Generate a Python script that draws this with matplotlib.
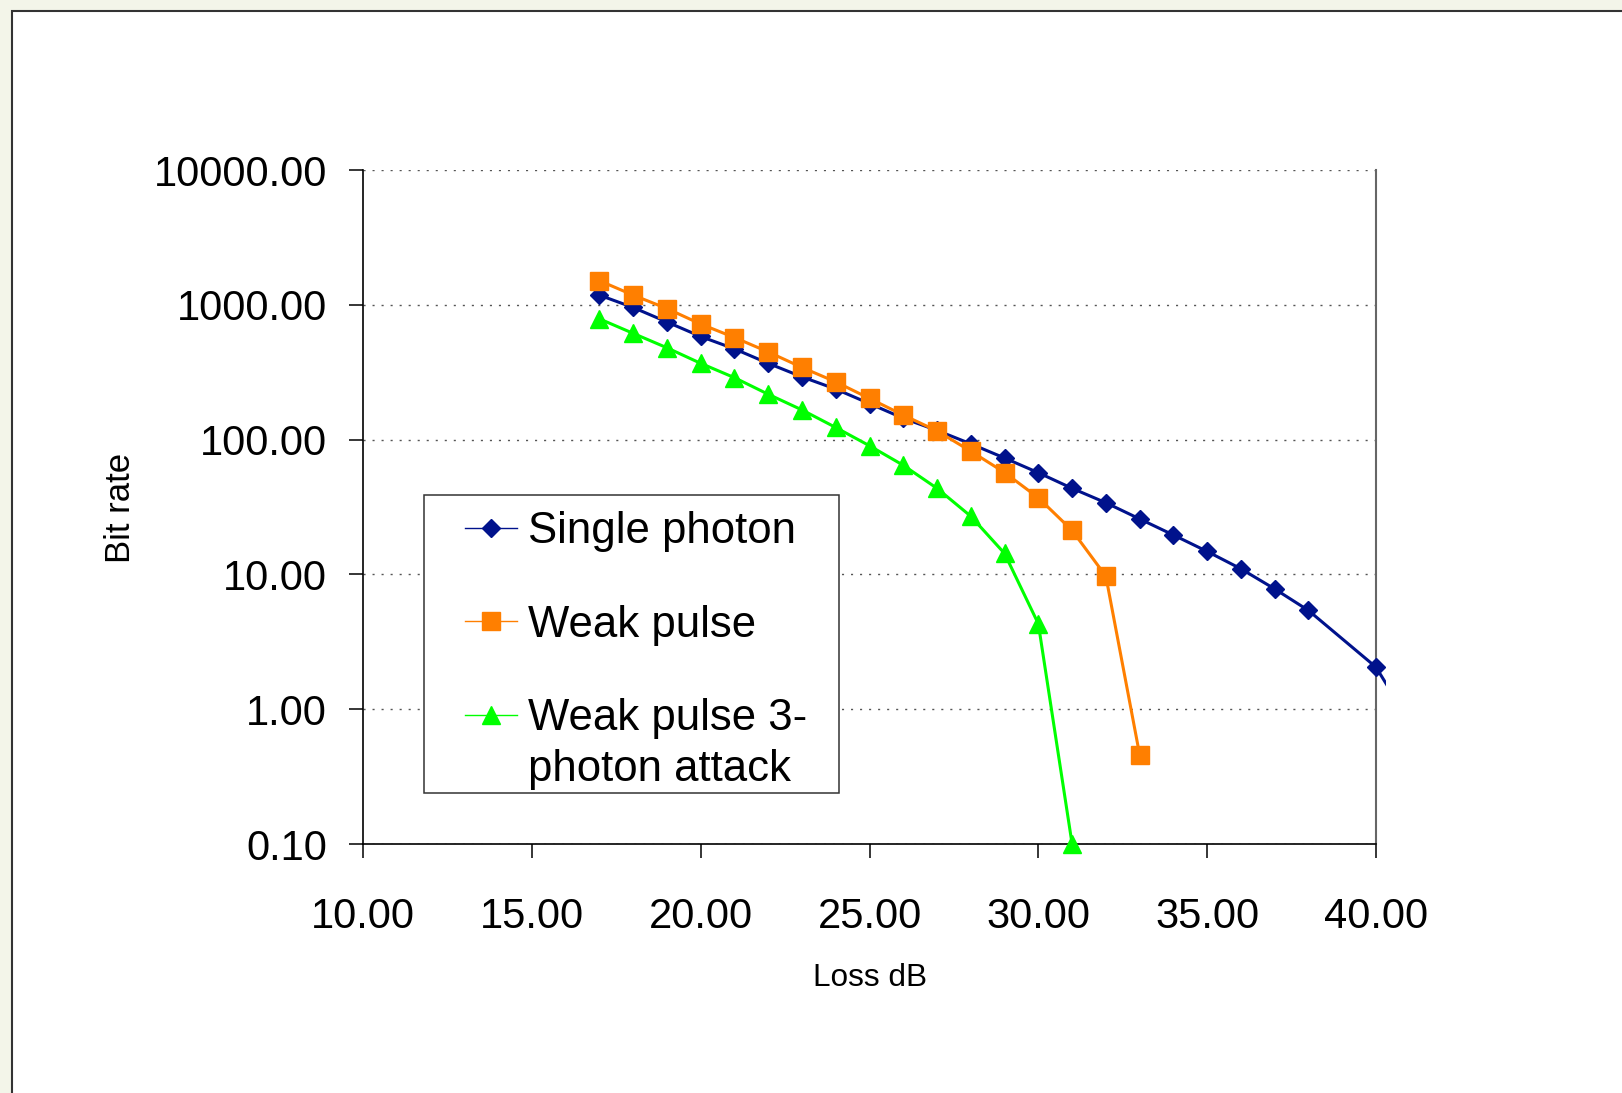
import matplotlib
matplotlib.use("Agg")
import matplotlib.pyplot as plt
from matplotlib.patches import Rectangle
from matplotlib.lines import Line2D
from matplotlib.legend_handler import HandlerLine2D
from matplotlib.ticker import NullLocator, FixedLocator

plt.rcParams['font.family'] = ['Liberation Sans', 'DejaVu Sans']

# ---------------------------------------------------------
# data
# ---------------------------------------------------------
loss_single = [17, 18, 19, 20, 21, 22, 23, 24, 25, 26, 27, 28, 29, 30,
               31, 32, 33, 34, 35, 36, 37, 38, 40, 41]
rate_single = [1180, 955, 746, 582, 471, 368, 292, 237, 185, 144, 117, 93,
               73, 56.8, 43.5, 34, 25.8, 19.6, 14.8, 11.0, 7.8, 5.4, 2.05, 0.8]

loss_weak = [17, 18, 19, 20, 21, 22, 23, 24, 25, 26, 27, 28, 29, 30, 31, 32, 33]
rate_weak = [1510, 1180, 938, 720, 572, 447, 343, 268, 202, 152, 116, 82,
             57, 37, 21.2, 9.7, 0.46]

loss_attack = [17, 18, 19, 20, 21, 22, 23, 24, 25, 26, 27, 28, 29, 30, 31]
rate_attack = [787, 614, 480, 368, 288, 217, 166, 123, 90, 64.5, 43.5, 27,
               14.3, 4.3, 0.1]

labels = ["Single photon", "Weak pulse", "Weak pulse 3-\nphoton attack"]
colors = ["#00128C", "#FF7F00", "#00FF00"]
markers = ["D", "s", "^"]
msizes = [8.8, 13, 13.5]

x_ticks = [10, 15, 20, 25, 30, 35, 40]
y_ticks = [0.1, 1, 10, 100, 1000, 10000]

W, H = 1622, 1093


def fx(px):
    return px / W


def fy(py):
    return 1 - py / H


fig = plt.figure(figsize=(W / 100, H / 100), dpi=100)
fig.patch.set_facecolor("#F3F5E9")
fig.patches.append(Rectangle((fx(11.5), -0.1), 1.2, fy(10.5) + 0.1,
                             transform=fig.transFigure, facecolor="white",
                             edgecolor="#333333", linewidth=1.5, zorder=-5))

ax = fig.add_axes([fx(363), fy(844), fx(1376) - fx(363), fy(170) - fy(844)])
ax.set_facecolor("none")
ax.set_yscale("log")
ax.set_xlim(10, 40)
ax.set_ylim(0.1, 10000)

clip = Rectangle((0, -0.05), 1.01, 1.1, transform=ax.transAxes)

series = [(loss_single, rate_single), (loss_weak, rate_weak),
          (loss_attack, rate_attack)]
for i, (xs, ys) in enumerate(series):
    kw = {}
    if i == 0:
        kw["markevery"] = slice(None, -1)
    ln, = ax.plot(xs, ys, color=colors[i], lw=2.2, marker=markers[i],
                  ms=msizes[i], mec=colors[i], mfc=colors[i], zorder=3, **kw)
    ln.set_clip_path(clip)

# axes styling
ax.xaxis.set_major_locator(FixedLocator(x_ticks))
ax.yaxis.set_major_locator(FixedLocator(y_ticks))
ax.yaxis.set_minor_locator(NullLocator())
ax.xaxis.set_minor_locator(NullLocator())
ax.set_xticklabels([f"{v:.2f}" for v in x_ticks])
ax.set_yticklabels([f"{v:.2f}" for v in y_ticks])
ax.tick_params(axis="both", direction="out", length=10, width=1.1,
               labelsize=30, colors="black")
ax.tick_params(axis="y", pad=16)
ax.tick_params(axis="x", pad=28)

ax.grid(axis="y", which="major", color="#555555", lw=1.0,
        linestyle=(0, (1.5, 5)))
ax.spines["top"].set_visible(False)
ax.spines["left"].set_linewidth(1.2)
ax.spines["bottom"].set_linewidth(1.2)
ax.spines["right"].set_color("#666666")
ax.spines["right"].set_linewidth(1.5)

fig.text(fx(120), fy(508), "Bit rate", rotation=90, ha="center",
         va="center", fontsize=25)
fig.text(fx(869.5), fy(978), "Loss dB", ha="center", va="center",
         fontsize=22.7)


# legend: frame drawn by hand, entries via ax.legend
class RaisedHandler(HandlerLine2D):
    def __init__(self, dy, **kw):
        super().__init__(**kw)
        self.dy = dy

    def create_artists(self, legend, orig_handle, xdescent, ydescent,
                       width, height, fontsize, trans):
        return super().create_artists(legend, orig_handle, xdescent,
                                      ydescent - 2 * self.dy, width, height,
                                      fontsize, trans)


frame = Rectangle((fx(424), fy(793)), fx(839) - fx(424), fy(495) - fy(793),
                  transform=fig.transFigure, facecolor="white",
                  edgecolor="#333333", linewidth=1.1, zorder=4,
                  clip_on=False)
ax.add_patch(frame)

proxies = [Line2D([], [], color=colors[i], lw=1.0, marker=markers[i],
                  ms=msizes[i], mec=colors[i], mfc=colors[i])
           for i in range(3)]
leg = ax.legend(proxies, labels, loc="upper left",
                bbox_to_anchor=(fx(465), fy(511)),
                bbox_transform=fig.transFigure, frameon=False,
                fontsize=31.5, borderpad=0, borderaxespad=0,
                handlelength=1.2, handletextpad=0.25, labelspacing=1.2,
                handler_map={proxies[2]: RaisedHandler(21.5)})
leg.set_zorder(5)
leg.get_texts()[2].set_linespacing(1.3)

fig.savefig("out.png", dpi=100, facecolor=fig.get_facecolor())
